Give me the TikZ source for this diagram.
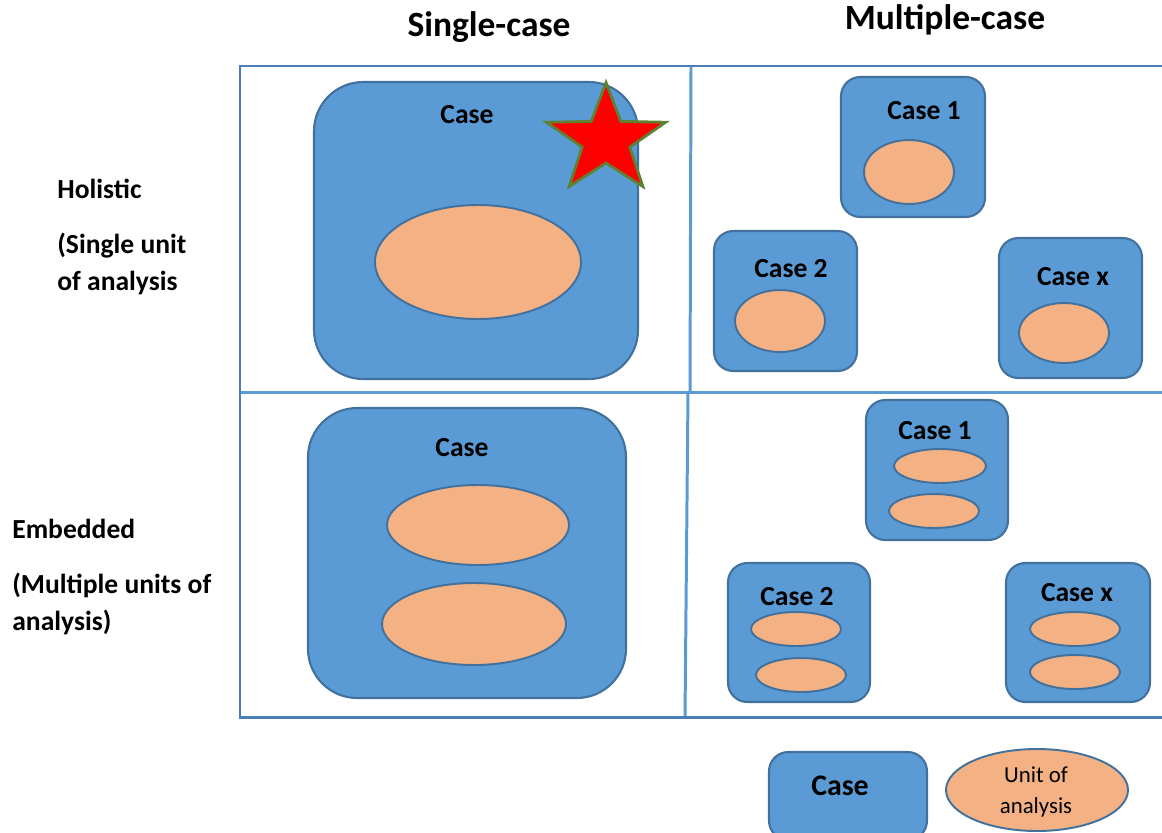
\documentclass[tikz,border=0pt]{standalone}
\usepackage{fontspec}
\setmainfont{Carlito}
\usetikzlibrary{shapes.geometric}
\definecolor{casefill}{HTML}{5B9BD5}
\definecolor{caseline}{HTML}{41719C}
\definecolor{unitfill}{HTML}{F4B183}
\definecolor{gridline}{HTML}{5B9BD5}
\definecolor{frameline}{HTML}{4A7EBB}
\definecolor{starline}{HTML}{5F8232}
\tikzset{
  casebox/.style={draw=caseline, fill=casefill, line width=1.2pt, rounded corners=11pt},
  bigcase/.style={casebox, rounded corners=28pt},
  unit/.style={draw=caseline, fill=unitfill, line width=1.1pt},
  caselbl/.style={font=\bfseries\fontsize{15.7}{18}\selectfont, inner sep=0pt},
  rowlbl/.style={font=\bfseries\fontsize{15.7}{18}\selectfont, inner sep=0pt, anchor=west},
  title/.style={font=\bfseries\fontsize{20.2}{24}\selectfont, inner sep=0pt},
  frame/.style={draw=frameline, line width=1.7pt},
  grid/.style={draw=gridline, line width=1.7pt},
}
\newcommand{\ovalat}[5]{% name, cx, cy, rx, ry
  \draw[unit] (#2,#3) ellipse [x radius=#4, y radius=#5];
  \coordinate (#1) at (#2,#3);}
\begin{document}
\begin{tikzpicture}[x=0.02cm, y=-0.02cm]
\useasboundingbox (0,0) rectangle (1162,832);

% column titles
\node[title] (tsingle) at (489,27) {Single-case};
\node[title] (tmulti) at (945,20) {Multiple-case};

% row labels
\node[rowlbl] (hol) at (57,189) {Holistic};
\node[rowlbl] (hol2) at (57,246) {(Single unit};
\node[rowlbl] (hol3) at (57,283) {of analysis};
\node[rowlbl] (emb) at (12,529) {Embedded};
\node[rowlbl] (emb2) at (12,585) {(Multiple units of};
\node[rowlbl] (emb3) at (12,622) {analysis)};

% grid
\coordinate (tl) at (240,66);
\coordinate (tr) at (1162,66);
\coordinate (bl) at (240,717);
\coordinate (br) at (1162,717);
\draw[grid] (240,392) -- (1162,392);
\draw[grid] (691,66) -- (690,392);
\draw[grid] (688,392) -- (685,717);
\draw[frame] (tr) -- (tl) -- (bl) -- (br);

% single-case, holistic
\draw[bigcase] (314,82) rectangle (638,379);
\node[caselbl] (c11) at (467,115) {Case};
\ovalat{u11}{478}{262}{103}{57}
\node[star, star points=5, star point ratio=2.5, minimum size=2.3cm,
      fill=red, draw=starline, line width=1.6pt, inner sep=0pt, xscale=1.09] (star) at (606,140) {};

% single-case, embedded
\draw[bigcase] (308,408) rectangle (626,698);
\node[caselbl] (c21) at (462,448) {Case};
\ovalat{u21a}{478}{525}{91}{40}
\ovalat{u21b}{474}{624}{92}{41}

% multiple-case, holistic
\draw[casebox] (841,77) rectangle (985,217);
\node[caselbl] (c12a) at (924,111) {Case 1};
\ovalat{u12a}{909}{172}{45}{32}
\draw[casebox] (714,231) rectangle (857,371);
\node[caselbl] (c12b) at (791,269) {Case 2};
\ovalat{u12b}{780}{321}{45}{31}
\draw[casebox] (999,238) rectangle (1142,378);
\node[caselbl] (c12c) at (1073,277) {Case x};
\ovalat{u12c}{1064}{333}{45}{30}

% multiple-case, embedded
\draw[casebox] (866,400) rectangle (1008,540);
\node[caselbl] (c22a) at (935,431) {Case 1};
\ovalat{u22a1}{940}{466}{46}{17}
\ovalat{u22a2}{934}{511}{45}{17}
\draw[casebox] (728,563) rectangle (870,702);
\node[caselbl] (c22b) at (797,597) {Case 2};
\ovalat{u22b1}{796}{629}{45}{17}
\ovalat{u22b2}{801}{675}{45}{17}
\draw[casebox] (1006,563) rectangle (1150,702);
\node[caselbl] (c22c) at (1077,593) {Case x};
\ovalat{u22c1}{1075}{629}{45}{17}
\ovalat{u22c2}{1075}{672}{45}{17}

% legend
\draw[casebox] (769,752) rectangle (927,840);
\node[caselbl, font=\bfseries\fontsize{17}{20}\selectfont] (lcase) at (840,786) {Case};
\ovalat{lunit}{1037}{790}{91}{41}
\node[font=\fontsize{13}{17.5}\selectfont, align=center, inner sep=0pt] (lunitlbl) at (1036,792) {Unit of\\analysis};
\end{tikzpicture}
\end{document}
